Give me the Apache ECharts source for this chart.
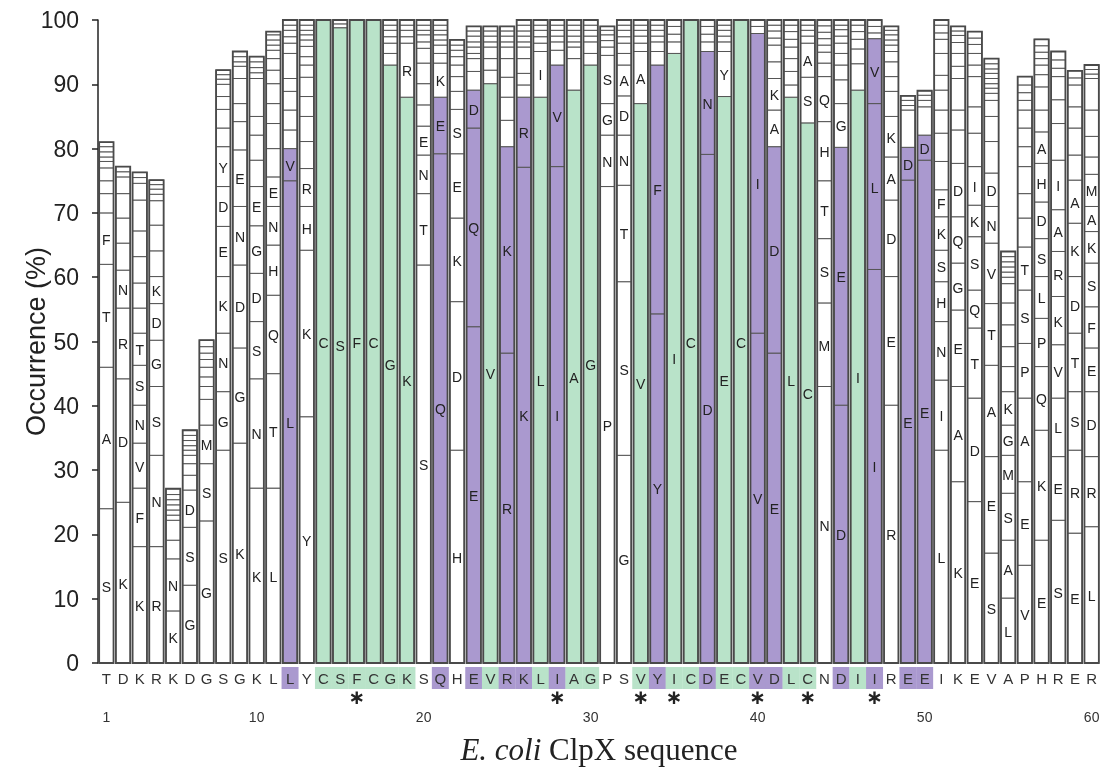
<!DOCTYPE html>
<html><head><meta charset="utf-8">
<script src="https://cdn.jsdelivr.net/npm/echarts@6/dist/echarts.min.js"></script>
<style>html,body{margin:0;padding:0;background:#fff}#c{width:1102px;height:770px}
#c svg{will-change:transform}#c text{-webkit-font-smoothing:antialiased}</style>
</head><body><div id="c"></div>
<script>
// E. coli ClpX residues 1-60 (x-axis categories)
const sequence = 'TDKRKDGSGKLLYCSFCGKSQHEVRKLIAGPSVYICDECVDLCNDIIREEIKEVAPHRER'.split('');
const numberedPositions = [1, 10, 20, 30, 40, 50, 60];
const starredPositions = [16, 28, 33, 35, 40, 43, 47];
const yTicks = [0, 10, 20, 30, 40, 50, 60, 70, 80, 90, 100];
// Per position: stacked residue segments, cumulative top (%) of each segment from the bottom.
// Letter = residue label, suffix p = purple class, g = green class, no letter = minor residue.
const columnStacks = [
 'S24 A46 T62 F70 73 75 77 78 78.7 79.5 80.3 81',
 'K25 D44.2 R55.2 N61.1 65.3 69.2 73 75.6 76.4 77.2',
 'K18.1 F27.2 V34.2 N40.1 S46.3 T51.3 55.2 59.1 63.2 67.2 72 74.6 75.5 76.3',
 'R18.1 N32.3 S43 G50.2 D55.9 K60.1 64.1 68.1 71.9 72.9 73.7 74.4 75.1',
 'K8.1 N16.2 19.1 22.2 23 23.8 24.6 25.4 26.2 27.1',
 'G12.1 S21.1 D26.9 29.2 31 32.3 33.1 33.8 34.6 35.4 36.2',
 'G22.1 S31 M37 41 43 44.5 46 47.2 48.2 49.2 50.2',
 'S33.1 G42.2 N51.3 K60.1 E67.9 D74.1 Y80.3 83.2 86.1 88.1 90 90.8 91.5 92.2',
 'K34.2 G49 D61.9 N71 E79.8 84.2 87 90.9 92.8 93.5 94.3 95.1',
 'K27.2 N44.2 S53.1 D60.6 G68 E74.1 78.2 82.1 85 90.9 91.8 92.6 93.5 94.3',
 'L27.2 T45 Q57.2 H65 N71 E75.6 80 83.9 87 90.1 92.2 94 95.3 96.1 96.9 97.7 98.2',
 'L75p V80p 82.9 86 88.9 90.9 94.8 96.4 97.4 98.4 99.2 100',
 'Y38.3 K64.2 H71 R76.9 81.1 85 88.1 91.1 93 94.3 95.9 96.9 97.7 98.4 99.2 100',
 'C100g',
 'S98.8g 99.4 100',
 'F100g',
 'C100g',
 'G93g 94.8 96.4 97.4 98.4 99.2 100',
 'K88g R96.4 97.4 98.4 99.2 100',
 'S61.9 T73 N79 E83.5 86.8 90.1 93.3 95.6 96.6 97.7 98.4 99.2 100',
 'Q79.2p E88p K93.3 94.8 96.1 96.9 97.7 98.4 99.2 100',
 'H33.1 D56.2 K69.2 E79.2 S86.1 88.9 91.2 93 94.3 95.3 96.1 96.9',
 'E52.3p Q83.2p D89.1p 92 94 94.8 95.8 96.6 97.5 98.3 99',
 'V90.1g 92.2 94 95.8 96.6 97.5 98.3 99',
 'R48.2p K80.3p 84.4 88 91.1 94 95.8 96.6 97.5 98.3 99',
 'K77.1p R88p 89.9 91.7 94 95.8 96.6 97.5 98.3 99.2 100',
 'L88g I95.1 96.4 97.4 98.4 99.2 100',
 'I77.2p V93p 95.3 96.6 97.5 98.4 99.2 100',
 'A89.1g 94 95.8 96.6 97.5 98.4 99.2 100',
 'G93g 94.8 96.6 97.5 98.4 99.2 100',
 'P74.1 N82.1 G87 S94.5 95.8 96.8 97.7 98.4 99',
 'G32.3 S59.3 T74.3 N82.1 D88.2 A93 94.8 96.4 97.4 98.4 99.2 100',
 'V87g A95.1 96.4 97.5 98.4 99.2 100',
 'Y54.3p F93p 95.1 96.6 97.5 98.4 99.2 100',
 'I94.8g 96.6 97.8 99 100',
 'C100g',
 'D79.1p N95.1p 96.6 97.8 99 100',
 'E88.1g Y95.1 96.6 97.5 98.4 99.2 100',
 'C100g',
 'V51.3p I97.9p 99 100',
 'E48.2p D80.3p A86 K90.9 93.5 96.1 97.2 98.3 99.2 100',
 'L88g 89.9 92 94 95.8 97 98.2 99.2 100',
 'C84g S91.1 A96.4 97.5 98.4 99.2 100',
 'N43 M56 S66 T75 H84.2 Q91.2 93.3 95 96.1 97.1 98.1 99.1 100',
 'D40.1p E80.2p G87 90.7 93 94.8 96.4 97.5 98.5 99.2 100',
 'I89.1g 93.2 95.5 97 98.2 99.2 100',
 'I61.2p L87p V97.1p 98 99 100',
 'R40.1 E60.1 D72 A78.7 K85 88.9 91.2 93.5 95.1 96.1 96.9 97.7 98.4 99',
 'E75.1p D80.2p 86 86.7 87.5 88.2',
 'E78.2p D82.1p 86.5 87.5 88.3 89',
 'L33.1 I44 N53.1 H59.3 S64.2 K69.4 F73.6 78 82.4 86 89.1 91.4 94.8 97 98 99.2 100',
 'K28.2 A43 E54.9 G62.2 Q69.4 D77.7 82.9 86 90.9 92.8 94.8 96.5 97.6 98.3 99',
 'E25.1 D41.2 T52.1 Q58 S66.3 K71.2 I77.2 82.4 86.5 91.2 93 94.8 96.2 97.2 98.2',
 'S17.1 E32.1 A46.3 T55.9 V65.3 N71 D76.2 81.1 85 87.5 88.6 89.4 90.1 90.9 91.7 92.4 93.2 94',
 'L10.1 A19.1 S26.4 M32.3 G37 K42.2 46.1 49.2 52.6 56 59 60 60.8 61.6 62.4 63.2 64',
 'V15.2 E28.2 A41.2 P49.7 S58 T64.7 69.2 73 77.2 80.3 83.2 86 87.5 88.7 89.9 91.2',
 'E19.1 K36.2 Q46.1 P53.6 L60.1 S66 D71.7 H77.7 A82.6 86 89.6 91.5 93 94 95 96 97',
 'S22.2 E32.1 L41.2 V49.5 K57 R64 A70.5 I78.2 83.9 87.6 91.2 92.5 93.8 95.1',
 'E20.2 R33.1 S42.2 T51.3 D60.1 K68.4 A75.1 79 83.2 86.5 89.9 91 92.1',
 'L21.2 R32.1 D42.2 E49 F55.4 S62.2 K67.1 A71 M76 78.7 81.9 86 90.9 91.6 92.3 93'
];

const PURPLE = '#aa99cf', GREEN = '#b9e3c9';
const classFill = { p: PURPLE, g: GREEN, '': '#ffffff' };

const categories = sequence.map((_, i) => String(i + 1));
const segData = [], segInfo = [], colTotals = [], baseClass = [];
columnStacks.forEach((str, c) => {
  let prev = 0;
  str.trim().split(/\s+/).forEach((tok, k) => {
    const m = tok.match(/^([A-Z]?)([\d.]+)([pg]?)$/);
    const top = parseFloat(m[2]);
    segData.push([c, prev, top]);
    segInfo.push({ label: m[1], cls: m[3] });
    if (k === 0) baseClass.push(m[3]);
    prev = top;
  });
  colTotals.push([c, 0, prev]);
});

const chart = echarts.init(document.getElementById('c'), null, { renderer: 'svg' });
const BAR = 0.86;
const FONT = '"Liberation Sans", Arial, sans-serif';
const SERIF = '"Liberation Serif", "Times New Roman", serif';

function segRender(params, api) {
  const c = api.value(0), lo = api.value(1), hi = api.value(2);
  const a = api.coord([c, lo]), b = api.coord([c, hi]);
  const w = api.size([1, 0])[0] * BAR;
  const info = segInfo[params.dataIndex];
  const children = [{
    type: 'rect',
    shape: { x: a[0] - w / 2, y: b[1], width: w, height: a[1] - b[1] },
    style: { fill: classFill[info.cls], stroke: '#555', lineWidth: 1 }
  }];
  if (info.label) {
    children.push({
      type: 'text',
      style: { text: info.label, x: a[0], y: (a[1] + b[1]) / 2 + 1, align: 'center', verticalAlign: 'middle',
               fontSize: 14, fontFamily: FONT, fill: '#222' }
    });
  }
  return { type: 'group', children };
}
function outlineRender(params, api) {
  const c = api.value(0), lo = api.value(1), hi = api.value(2);
  const a = api.coord([c, lo]), b = api.coord([c, hi]);
  const w = api.size([1, 0])[0] * BAR;
  return { type: 'rect', shape: { x: a[0] - w / 2, y: b[1], width: w, height: a[1] - b[1] },
           style: { fill: 'none', stroke: '#4a4a4a', lineWidth: 1.8 } };
}

const seqBase = { width: 17, height: 22, lineHeight: 22, align: 'center', fontSize: 15, color: '#333', fontFamily: FONT };
const seqRich = {
  w: Object.assign({}, seqBase),
  p: Object.assign({}, seqBase, { backgroundColor: PURPLE }),
  g: Object.assign({}, seqBase, { backgroundColor: GREEN })
};
const markRich = {
  s: { fontSize: 20, fontWeight: 'bold', lineHeight: 24, height: 24, color: '#222', fontFamily: '"DejaVu Sans", sans-serif', align: 'center' },
  n: { fontSize: 14, lineHeight: 16, height: 16, color: '#333', fontFamily: FONT, align: 'center' }
};

const hiddenLine = { show: false };
chart.setOption({
  animation: false,
  backgroundColor: '#fff',
  grid: { left: 98, right: 2, top: 20, bottom: 107, outerBoundsMode: 'none', containLabel: false },
  xAxis: [
    { type: 'category', data: categories, position: 'bottom', axisLine: hiddenLine, axisTick: hiddenLine,
      axisLabel: { interval: 0, margin: 4, formatter: (v, i) => '{' + (baseClass[i] || 'w') + '|' + sequence[i] + '}', rich: seqRich } },
    { type: 'category', data: categories, position: 'bottom', offset: 22, axisLine: hiddenLine, axisTick: hiddenLine,
      axisLabel: { interval: 0, margin: 0, rich: markRich,
        formatter: (v) => '{s|' + (starredPositions.includes(+v) ? '\u2217' : ' ') + '}\n{n|' + (numberedPositions.includes(+v) ? v : ' ') + '}' },
      name: '{i|E. coli} ClpX sequence', nameLocation: 'middle', nameGap: 49, nameMoveOverlap: false,
      nameTextStyle: { fontSize: 31, color: '#222', fontFamily: SERIF,
        rich: { i: { fontStyle: 'italic', fontSize: 31, color: '#222', fontFamily: SERIF } } } }
  ],
  yAxis: {
    type: 'value', min: 0, max: 100, interval: 10,
    axisLine: { show: true, lineStyle: { color: '#222', width: 1.5 } },
    axisTick: { show: true, length: 6, lineStyle: { color: '#222', width: 1.5 } },
    axisLabel: { fontSize: 23, color: '#222', fontFamily: FONT, margin: 19,
      formatter: (v) => yTicks.includes(v) ? String(v) : '' },
    splitLine: { show: false },
    name: 'Occurrence (%)', nameLocation: 'middle', nameGap: 49, nameMoveOverlap: false,
    nameTextStyle: { fontSize: 27, color: '#222', fontFamily: FONT }
  },
  series: [
    { type: 'custom', name: 'segments', xAxisIndex: 0, renderItem: segRender, data: segData, encode: { x: 0, y: [1, 2] }, z: 2 },
    { type: 'custom', name: 'outlines', xAxisIndex: 0, renderItem: outlineRender, data: colTotals, encode: { x: 0, y: [1, 2] }, z: 3, silent: true }
  ]
});
</script></body></html>
